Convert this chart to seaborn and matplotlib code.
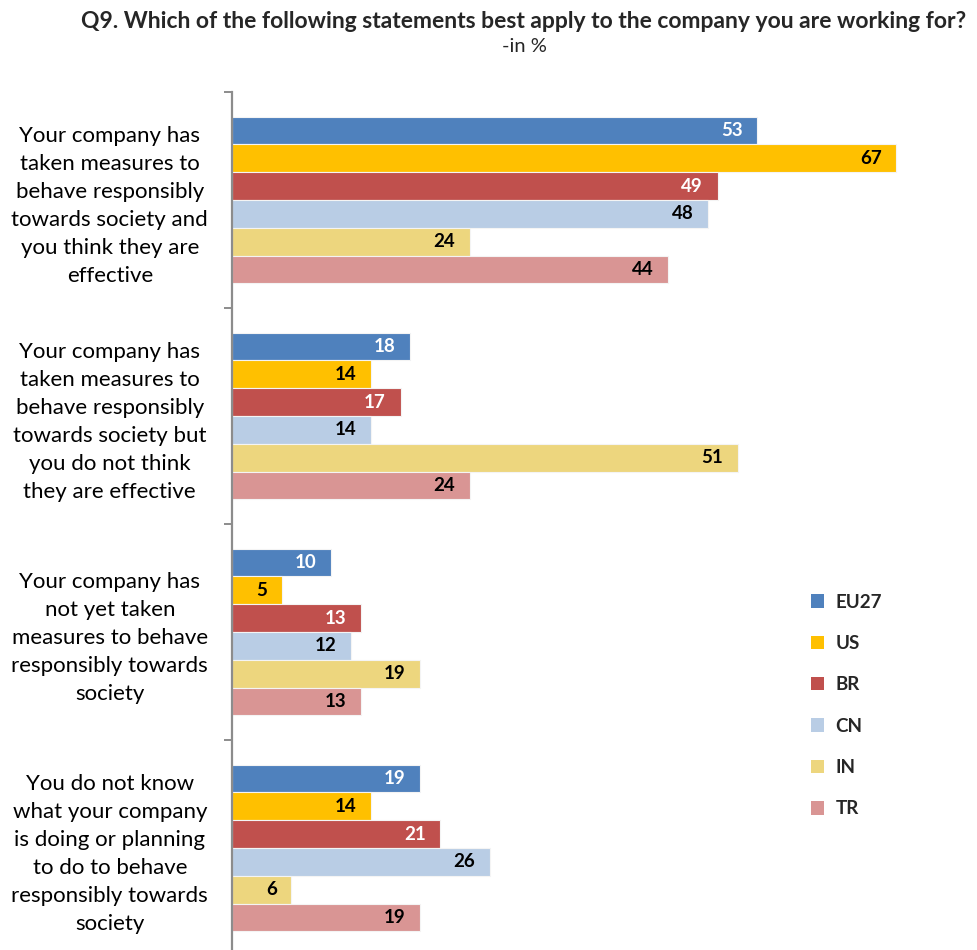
import matplotlib
matplotlib.use("Agg")
import matplotlib.pyplot as plt
import seaborn as sns
import pandas as pd
from matplotlib.patches import Patch

# Survey answers (share of respondents, %)
categories = [
    "Your company has\ntaken measures to\nbehave responsibly\ntowards society and\nyou think they are\neffective",
    "Your company has\ntaken measures to\nbehave responsibly\ntowards society but\nyou do not think\nthey are effective",
    "Your company has\nnot yet taken\nmeasures to behave\nresponsibly towards\nsociety",
    "You do not know\nwhat your company\nis doing or planning\nto do to behave\nresponsibly towards\nsociety",
]
countries = ["EU27", "US", "BR", "CN", "IN", "TR"]
eu27 = [53, 18, 10, 19]
us = [67, 14, 5, 14]
br = [49, 17, 13, 21]
cn = [48, 14, 12, 26]
india = [24, 51, 19, 6]
tr = [44, 24, 13, 19]

colors = ["#4F81BD", "#FFC000", "#C0504D", "#B9CDE5", "#EDD67E", "#D99594"]
label_colors = ["white", "black", "white", "black", "black", "black"]

series = [eu27, us, br, cn, india, tr]
rows = []
for country, vals in zip(countries, series):
    for cat, v in zip(categories, vals):
        rows.append({"category": cat, "country": country, "value": v})
df = pd.DataFrame(rows)

sns.set_theme(style="white")
plt.rcParams["font.family"] = ["Lato", "DejaVu Sans"]

fig = plt.figure(figsize=(9.77, 9.5), dpi=100)
ax = fig.add_axes([232 / 977, -6 / 950, 694 / 977, 864 / 950])

sns.barplot(
    data=df, x="value", y="category", hue="country", orient="h",
    order=categories, hue_order=countries, palette=colors,
    width=0.773, saturation=1, edgecolor="#F4F4F4", linewidth=0.8,
    legend=False, ax=ax,
)

ax.set_xlim(0, 70)
ax.set_ylim(3.5, -0.5)
ax.set_xlabel("")
ax.set_ylabel("")
ax.set_xticks([])

for s in ["top", "right", "bottom"]:
    ax.spines[s].set_visible(False)
ax.spines["left"].set_color("#8C8C8C")
ax.spines["left"].set_linewidth(1.6)

# category labels centred to the left of the axis
ax.set_yticks(range(len(categories)))
ax.set_yticklabels(categories, ha="center", multialignment="center",
                   fontsize=16, color="black", linespacing=1.5)
ax.tick_params(axis="y", which="major", length=0, pad=88)
ax.set_yticks([-0.5, 0.5, 1.5, 2.5, 3.5], minor=True)
ax.tick_params(axis="y", which="minor", length=6, width=1.4,
               color="#8C8C8C", left=True)

# value labels inside the end of each bar
for container, tc in zip(ax.containers, label_colors):
    for bar in container:
        w = bar.get_width()
        ax.annotate(f"{w:.0f}", xy=(w, bar.get_y() + bar.get_height() / 2),
                    xytext=(-10.5, 0), textcoords="offset points",
                    ha="right", va="center", fontsize=13.5,
                    fontweight="bold", color=tc)

handles = [Patch(facecolor=c, edgecolor="none") for c in colors]
fig.legend(handles, countries, loc="upper left",
           bbox_to_anchor=(803 / 977, 1 - 586 / 950), frameon=False,
           prop={"size": 13.5, "weight": "bold"}, handlelength=0.72,
           handleheight=0.72, handletextpad=0.6, labelspacing=1.3,
           borderaxespad=0)

fig.text(524 / 977, 1 - 21 / 950,
         "Q9. Which of the following statements best apply to the company you are working for?",
         ha="center", va="center", fontsize=16.5, fontweight="bold")
fig.text(524 / 977, 1 - 47 / 950, "-in %", ha="center", va="center",
         fontsize=14.5)

fig.savefig("out.png", dpi=100)
